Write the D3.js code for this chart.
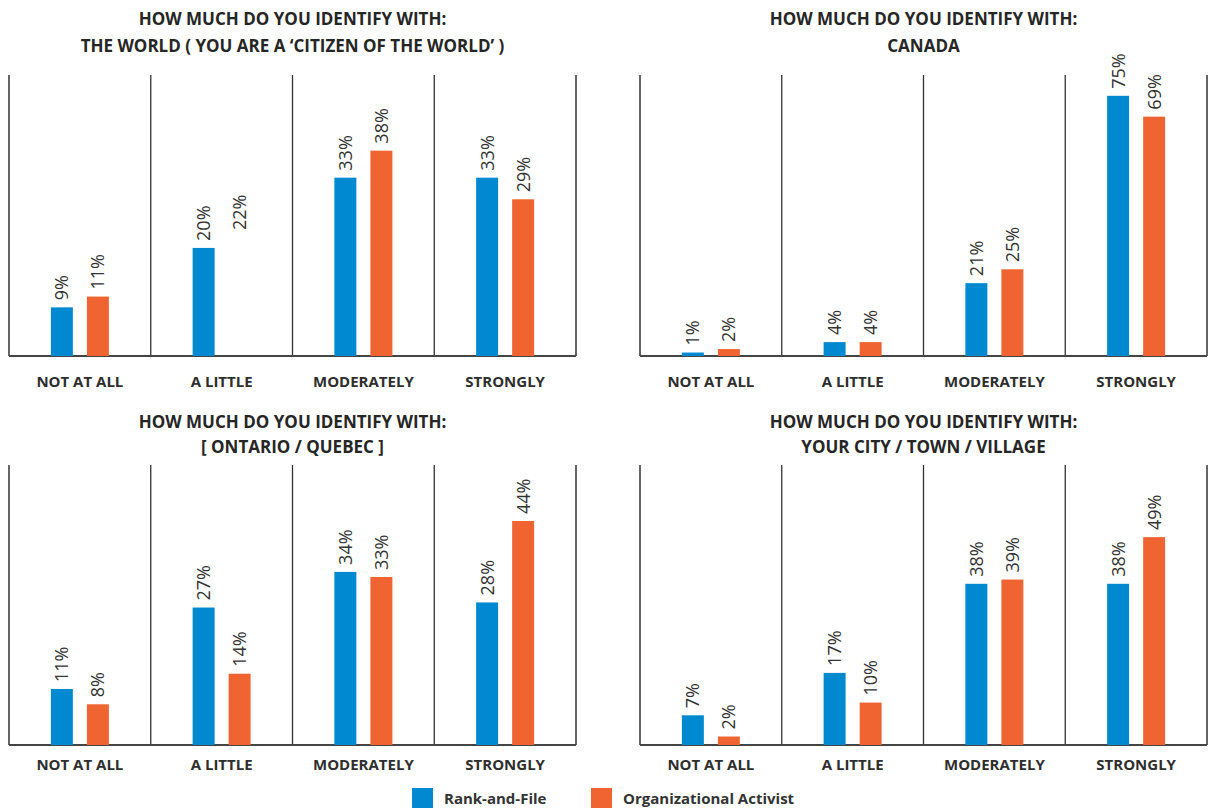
<!DOCTYPE html>
<html lang="en">
<head>
  <meta charset="UTF-8">
  <title>How much do you identify with...</title>
  <script src="https://d3js.org/d3.v7.min.js"></script>
  <style>
    body {
      margin: 0;
      background: #fff;
      font-family: "Open Sans", "Noto Sans", sans-serif;
    }
    .title { font-size: 17px; font-weight: 700; fill: #262626; }
    .cat { font-size: 15px; font-weight: 700; fill: #2e2e2e; }
    .val { font-size: 18px; fill: #333; }
    .legend-text { font-size: 15px; font-weight: 700; fill: #333; }
  </style>
</head>
<body>
  <div id="chart"></div>

  <script>
    const categories = ["NOT AT ALL", "A LITTLE", "MODERATELY", "STRONGLY"];
    const series = ["Rank-and-File", "Organizational Activist"];

    const worldRank = [9, 20, 33, 33];
    const worldActivist = [11, 22, 38, 29];
    const canadaRank = [1, 4, 21, 75];
    const canadaActivist = [2, 4, 25, 69];
    const provinceRank = [11, 27, 34, 28];
    const provinceActivist = [8, 14, 33, 44];
    const cityRank = [7, 17, 38, 38];
    const cityActivist = [2, 10, 39, 49];

    const titles = [
      ["HOW MUCH DO YOU IDENTIFY WITH:", "THE WORLD ( YOU ARE A \u2018CITIZEN OF THE WORLD\u2019 )"],
      ["HOW MUCH DO YOU IDENTIFY WITH:", "CANADA"],
      ["HOW MUCH DO YOU IDENTIFY WITH:", "[ ONTARIO / QUEBEC ]"],
      ["HOW MUCH DO YOU IDENTIFY WITH:", "YOUR CITY / TOWN / VILLAGE"]
    ];

    // the original leaves out this bar (label only)
    const hiddenBars = [{ panel: 0, category: "A LITTLE", series: "Organizational Activist" }];

    const colors = ["#0089d0", "#f06431"];

    const panels = [
      { values: [worldRank, worldActivist], yMax: 52, col: 0, row: 0 },
      { values: [canadaRank, canadaActivist], yMax: 81, col: 1, row: 0 },
      { values: [provinceRank, provinceActivist], yMax: 55, col: 0, row: 1 },
      { values: [cityRank, cityActivist], yMax: 66, col: 1, row: 1 }
    ];

    const width = 1208, height = 808;
    const colX = [9, 640], panelW = 567;
    const rowTop = [75, 465], rowBase = [356, 745];
    const rowTitle = [[25, 52], [428, 453]];
    const rowCat = [387, 770];

    const svg = d3.select("#chart").append("svg")
      .attr("width", width)
      .attr("height", height);

    const x0 = d3.scaleBand().domain(categories).range([0, panelW]);
    const mid = x0.bandwidth() / 2;
    const x1 = d3.scaleBand().domain(series).range([mid - 29, mid + 29]).paddingInner(0.39);

    panels.forEach((p, pi) => {
      const g = svg.append("g").attr("transform", `translate(${colX[p.col]},0)`);
      const base = rowBase[p.row], top = rowTop[p.row];
      const y = d3.scaleLinear().domain([0, p.yMax]).range([base, top]);

      // titles
      titles[pi].forEach((t, i) => {
        g.append("text").attr("class", "title")
          .attr("x", panelW / 2).attr("y", rowTitle[p.row][i])
          .attr("text-anchor", "middle")
          .text(t);
      });

      // dividers
      const edges = categories.map(c => x0(c)).concat([panelW]);
      g.selectAll(".div").data(edges).enter().append("line")
        .attr("x1", d => d).attr("x2", d => d)
        .attr("y1", top).attr("y2", base)
        .attr("stroke", (d, i) => (i === 0 || i === edges.length - 1) ? "#666" : "#333")
        .attr("stroke-width", (d, i) => (i === 0 || i === edges.length - 1) ? 2 : 1.3);

      g.append("line")
        .attr("x1", 0).attr("x2", panelW)
        .attr("y1", base).attr("y2", base)
        .attr("stroke", "#444").attr("stroke-width", 2);

      const rows = [];
      categories.forEach((c, ci) => {
        series.forEach((s, si) => {
          const hidden = hiddenBars.some(h => h.panel === pi && h.category === c && h.series === s);
          rows.push({ c, s, si, v: p.values[si][ci], hidden });
        });
      });

      g.selectAll(".bar").data(rows.filter(d => !d.hidden)).enter().append("rect")
        .attr("x", d => x0(d.c) + x1(d.s))
        .attr("width", x1.bandwidth())
        .attr("y", d => y(d.v))
        .attr("height", d => base - y(d.v))
        .attr("fill", d => colors[d.si]);

      g.selectAll(".val").data(rows).enter().append("text")
        .attr("class", "val")
        .attr("transform", d => `translate(${x0(d.c) + x1(d.s) + x1.bandwidth() / 2},${y(d.v) - 7}) rotate(-90)`)
        .attr("dy", "0.36em")
        .text(d => d.v + "%");

      g.selectAll(".cat").data(categories).enter().append("text")
        .attr("class", "cat")
        .attr("x", d => x0(d) + mid)
        .attr("y", rowCat[p.row])
        .attr("text-anchor", "middle")
        .text(d => d);
    });

    // legend
    const legendX = [412, 591];
    const lg = svg.append("g");
    series.forEach((s, i) => {
      lg.append("rect").attr("x", legendX[i]).attr("y", 788)
        .attr("width", 21).attr("height", 20).attr("fill", colors[i]);
      lg.append("text").attr("class", "legend-text")
        .attr("x", legendX[i] + 32).attr("y", 804)
        .text(s);
    });
  </script>
</body>
</html>
